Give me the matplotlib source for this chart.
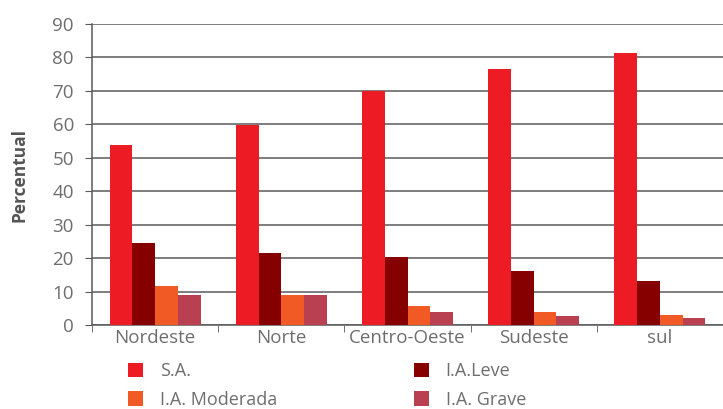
import numpy as np
import matplotlib
matplotlib.use("Agg")
from matplotlib import pyplot as plt

# data
regions = ["Nordeste", "Norte", "Centro-Oeste", "Sudeste", "sul"]
sa = [53.7, 59.7, 69.9, 76.5, 81.2]
ia_leve = [24.6, 21.6, 20.3, 16.0, 13.1]
ia_moderada = [11.7, 9.0, 5.6, 3.9, 3.1]
ia_grave = [9.0, 9.0, 3.8, 2.7, 2.0]

series = [
  ("S.A.", sa, "#ed1c24"),
  ("I.A.Leve", ia_leve, "#870000"),
  ("I.A. Moderada", ia_moderada, "#f15a24"),
  ("I.A. Grave", ia_grave, "#b94050"),
]

TEXT_COLOR = "#6e6e6e"
GRID_COLOR = "#5a5a5a"
plt.rcParams['font.family'] = ['Open Sans', 'DejaVu Sans']

fig = plt.figure(figsize=(7.23, 4.09), dpi=100)
ax = fig.add_axes([92 / 723, 84 / 409, 631 / 723, 301 / 409])

x = np.arange(len(regions))
bar_w = 0.18
handles = {}
for i, (name, vals, color) in enumerate(series):
  offset = (i - 1.5) * bar_w
  handles[name] = ax.bar(x + offset, vals, bar_w, color=color, label=name, zorder=3)

ax.set_ylim(0, 90)
ax.set_xlim(-0.5, -0.5 + 631 / 128)
ax.set_yticks(range(0, 91, 10))
ax.yaxis.grid(True, color=GRID_COLOR, linewidth=1.1, zorder=0)
ax.set_axisbelow(True)

ax.set_xticks(x)
ax.set_xticklabels(regions)
ax.set_xticks(np.arange(-0.5, len(regions), 1), minor=True)
ax.tick_params(axis='x', which='major', length=0, pad=3, labelsize=13.5, labelcolor=TEXT_COLOR)
ax.tick_params(axis='x', which='minor', length=5, color=GRID_COLOR)
ax.tick_params(axis='y', length=5, color=GRID_COLOR, labelsize=13.5, labelcolor=TEXT_COLOR, pad=8)

for side in ['top', 'right']:
  ax.spines[side].set_visible(False)
for side in ['left', 'bottom']:
  ax.spines[side].set_color(GRID_COLOR)
  ax.spines[side].set_linewidth(1.1)

ax.set_ylabel("Percentual", fontsize=12.5, fontweight='bold', color="#555555", labelpad=17)

order = ["S.A.", "I.A. Moderada", "I.A.Leve", "I.A. Grave"]
leg = fig.legend([handles[n] for n in order], order, ncol=2, loc='upper left',
                 bbox_to_anchor=(128 / 723, 1 - 362 / 409), frameon=False,
                 borderpad=0, borderaxespad=0,
                 handlelength=0.85, handleheight=0.85, handletextpad=0.9,
                 columnspacing=7.6, labelspacing=0.6, fontsize=13)
for t in leg.get_texts():
  t.set_color(TEXT_COLOR)

plt.savefig('out.png', dpi=100)
